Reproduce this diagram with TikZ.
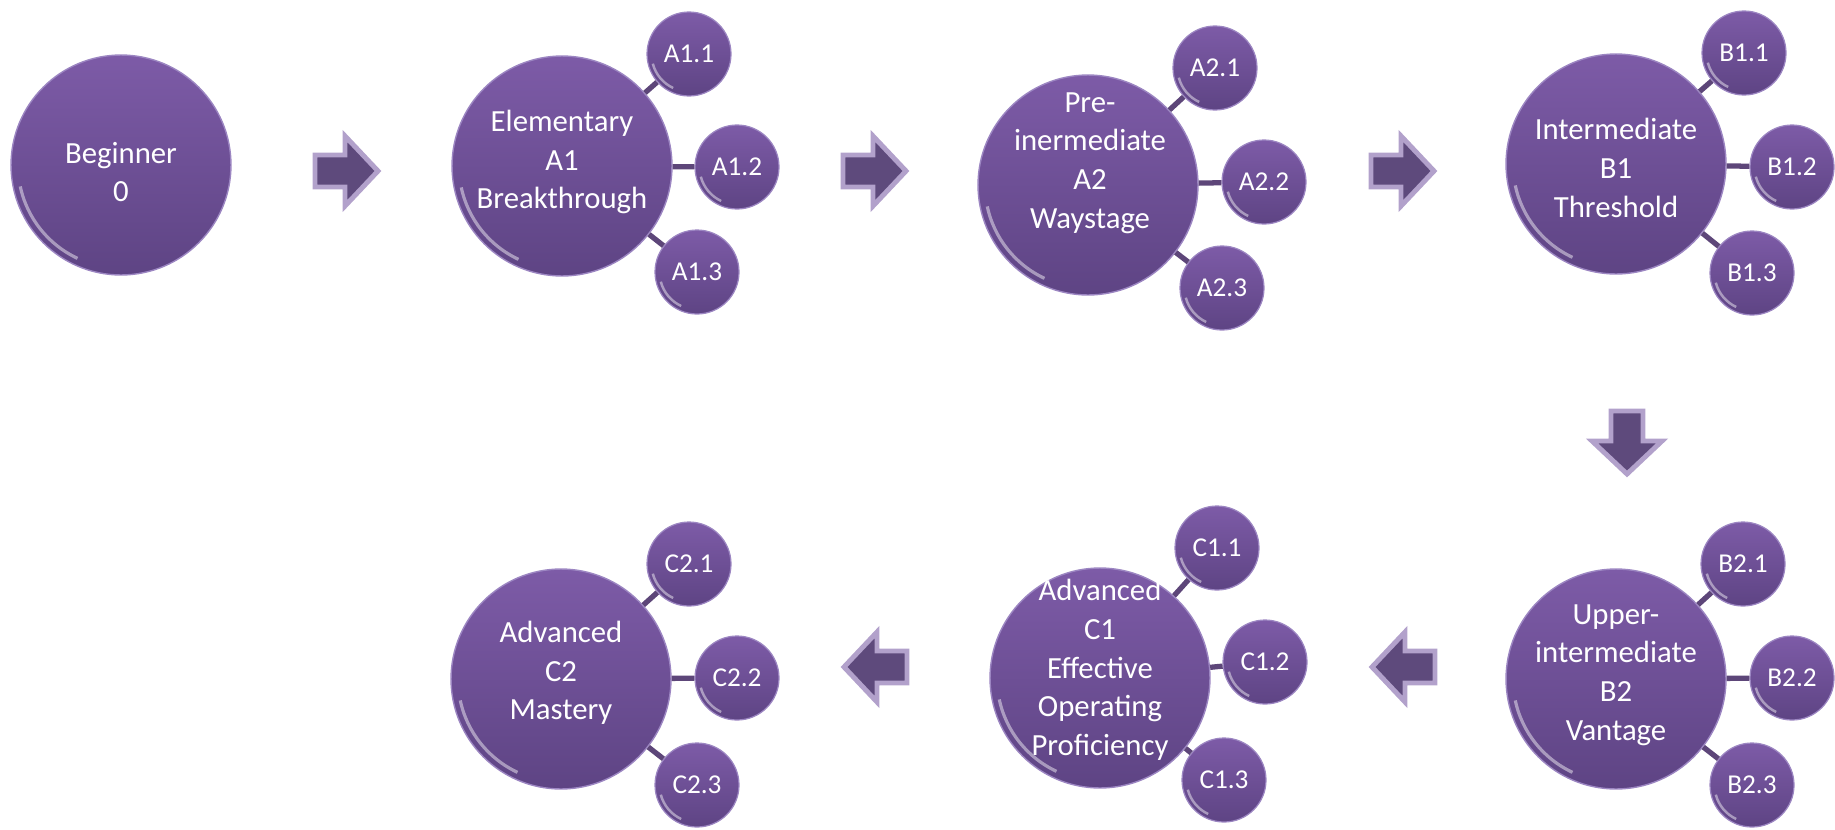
\documentclass[tikz,border=0pt]{standalone}
\usepackage{fontspec}
\setmainfont{Carlito}
\usepackage{xcolor}
\definecolor{lvlhi}{HTML}{7D5BA7}
\definecolor{lvllo}{HTML}{5E4484}
\definecolor{lvlrim}{HTML}{9C86C2}
\definecolor{arrfill}{HTML}{5E4A7C}
\definecolor{arrrim}{HTML}{B2A1CB}
\definecolor{linkcol}{HTML}{5D4679}
\usepackage{tikz}
\usetikzlibrary{shapes.geometric}
\tikzset{
  lvl/.style   ={circle, minimum size=4.4cm, inner sep=0pt, top color=lvlhi, bottom color=lvllo,
                 draw=lvlrim, line width=0.8pt,
                 path picture={\draw[white, opacity=0.45, line width=1.8pt]
                   ([shift={(192:2.06cm)}]path picture bounding box.center) arc[start angle=192, end angle=245, radius=2.06cm];}},
  sublvl/.style={circle, minimum size=1.68cm, inner sep=0pt, top color=lvlhi, bottom color=lvllo,
                 draw=lvlrim, line width=0.7pt, text=white, font=\fontsize{15.5}{18}\selectfont,
                 path picture={\draw[white, opacity=0.45, line width=1.4pt]
                   ([shift={(195:0.75cm)}]path picture bounding box.center) arc[start angle=195, end angle=245, radius=0.75cm];}},
  lvltxt/.style={text=white, align=center, inner sep=0pt, font=\fontsize{17.5}{22}\selectfont},
  link/.style  ={draw=linkcol, line width=3pt},
  blockarr/.style={fill=arrfill, draw=arrrim, line width=2.8pt, line join=miter},
}
\begin{document}
\begin{tikzpicture}[x=0.02cm, y=-0.02cm]
  \useasboundingbox (0,0) rectangle (1835,829);
  % levels
  \foreach \n/\x/\y in {beg/121/165, a1/562/166, a2/1088/185, b1/1616/164,
                        b2/1616/679, c1/1100/678, c2/561/679}
    \node[lvl] (\n) at (\x,\y) {};
  \foreach \n/\x/\y/\t in {beg/121/172/{Beginner\\0}, a1/562/162/{Elementary\\A1\\Breakthrough},
                           a2/1090/163/{Pre-\\inermediate\\A2\\Waystage}, b1/1616/168/{Intermediate\\B1\\Threshold},
                           b2/1616/675/{Upper-\\intermediate\\B2\\Vantage},
                           c1/1100/670/{Advanced\\C1\\Effective\\Operating\\Proficiency},
                           c2/561/673/{Advanced\\C2\\Mastery}}
    \node[lvltxt] (\n-t) at (\x,\y) {\t};
  % sublevels
  \foreach \p/\k/\x/\y in {a1/1/689/54, a1/2/737/167, a1/3/697/272,
                           a2/1/1215/68, a2/2/1264/182, a2/3/1222/288,
                           b1/1/1744/53, b1/2/1792/167, b1/3/1752/273,
                           b2/1/1743/564, b2/2/1792/678, b2/3/1752/785,
                           c1/1/1217/548, c1/2/1265/662, c1/3/1224/780,
                           c2/1/689/564, c2/2/737/678, c2/3/697/785} {
    \node[sublvl] (\p-\k) at (\x,\y) {\MakeUppercase{\p}.\k};
    \draw[link] (\p) -- (\p-\k);
  }
  % block arrows
  \foreach \x/\y/\r in {347/171/0, 875/171/0, 1403/171/0, 1627/443/-90, 1403/667/180, 875/667/180}
    \draw[blockarr, shift={(\x,\y)}, rotate=\r]
      (-32,-16) -- (-2,-16) -- (-2,-35) -- (31,0) -- (-2,35) -- (-2,16) -- (-32,16) -- cycle;
\end{tikzpicture}
\end{document}
